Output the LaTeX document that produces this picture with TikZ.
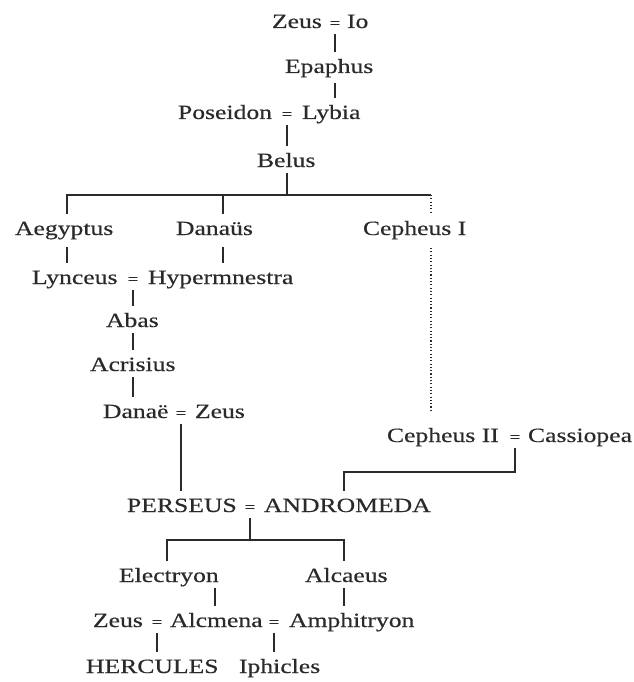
\documentclass[tikz,border=0pt]{standalone}
\usepackage{fontspec}
\setmainfont{Liberation Serif}[FakeStretch=1.27, FakeBold=0.4]
\definecolor{ink}{HTML}{2A2A2A}
\begin{document}
\begin{tikzpicture}[x=1pt,y=-1pt,
  person/.style={inner sep=0pt, outer sep=0pt, text height=21pt, text depth=6pt,
    anchor=base west, font=\fontsize{20.2}{24}\selectfont, text=ink},
  eqsign/.style={person, anchor=base, font=\fontsize{15}{18}\selectfont},
  link/.style={draw=ink, line width=1.2pt},
  dotlink/.style={draw=ink, line width=1.1pt, dash pattern=on 1.1pt off 2.2pt}]
\useasboundingbox (0,0) rectangle (633,682);
% row 1
\node[person] (zeusA) at (272,28) {Zeus};
\node[eqsign] (eqA) at (335,28) {=};
\node[person] (io) at (347,28) {Io};
% row 2
\node[person] (epaphus) at (285,73) {Epaphus};
% row 3
\node[person] (poseidon) at (178,119) {Poseidon};
\node[eqsign] (eqB) at (287,119) {=};
\node[person] (lybia) at (302,119) {Lybia};
% row 4
\node[person] (belus) at (257,167) {Belus};
% row 5
\node[person] (aeg) at (15,235) {Aegyptus};
\node[person] (danaus) at (176,235) {Danaüs};
\node[person] (cephA) at (363,235) {Cepheus I};
% row 6
\node[person] (lync) at (32,284) {Lynceus};
\node[eqsign] (eqC) at (133,284) {=};
\node[person] (hyper) at (148,284) {Hypermnestra};
% row 7-8
\node[person] (abas) at (106,327) {Abas};
\node[person] (acr) at (90,371) {Acrisius};
% row 9
\node[person] (danae) at (103,418) {Danaë};
\node[eqsign] (eqD) at (181,418) {=};
\node[person] (zeusB) at (195,418) {Zeus};
% row 10
\node[person] (cephB) at (387,442) {Cepheus II};
\node[eqsign] (eqE) at (515,442) {=};
\node[person] (cass) at (528,442) {Cassiopea};
% row 11
\node[person] (perseus) at (127,512) {PERSEUS};
\node[eqsign] (eqF) at (250,512) {=};
\node[person] (andro) at (264,512) {ANDROMEDA};
% row 12
\node[person] (electryon) at (119,582) {Electryon};
\node[person] (alcaeus) at (305,582) {Alcaeus};
% row 13
\node[person] (zeusC) at (93,627) {Zeus};
\node[eqsign] (eqG) at (157,627) {=};
\node[person] (alcmena) at (170,627) {Alcmena};
\node[eqsign] (eqH) at (274,627) {=};
\node[person] (amph) at (289,627) {Amphitryon};
% row 14
\node[person] (herc) at (86,673) {HERCULES};
\node[person] (iph) at (239,673) {Iphicles};

% junction coordinates
\coordinate (busL) at (67,195);
\coordinate (busD) at (223,195);
\coordinate (busM) at (287,195);
\coordinate (busR) at (431,195);
\coordinate (cornerC) at (344,472);
\coordinate (busPL) at (167,540);
\coordinate (busPR) at (344,540);
\coordinate (lineE) at (215,0);

% connectors
\draw[link] (eqA.south) -- (eqA.south |- epaphus.north);
\draw[link] ([yshift=-4pt]eqA |- epaphus.south) -- (eqA |- lybia.north);
\draw[link] (eqB.south) -- (eqB.south |- belus.north);
\draw[link] (busM |- belus.south) -- (busM);
\draw[link] (busL |- aeg.north) -- (busL) -- (busR);
\draw[link] (busD) -- (busD |- danaus.north);
\draw[dotlink] (busR) -- (busR |- cephA.north);
\draw[dotlink] ([yshift=-7pt]busR |- cephA.south) -- ([yshift=11pt]busR |- cephB.north);
\draw[link] ([yshift=-6pt]busL |- aeg.south) -- (busL |- lync.north);
\draw[link] ([yshift=-6pt]busD |- danaus.south) -- (busD |- hyper.north);
\draw[link] (eqC.south) -- (eqC.south |- abas.north);
\draw[link] (eqC |- abas.south) -- (eqC |- acr.north);
\draw[link] (eqC |- acr.south) -- (eqC |- danae.north);
\draw[link] (eqD.south) -- (eqD.south |- perseus.north);
\draw[link, line join=miter] (eqE.south) -- (eqE.south |- cornerC) -- (cornerC) -- (cornerC |- andro.north);
\draw[link] (eqF.south) -- (eqF.south |- busPL);
\draw[link, line join=miter] (busPL |- electryon.north) -- (busPL) -- (busPR) -- (busPR |- alcaeus.north);
\draw[link] (lineE |- electryon.south) -- (lineE |- alcmena.north);
\draw[link] (busPR |- alcaeus.south) -- (busPR |- amph.north);
\draw[link] (eqG.south) -- (eqG.south |- herc.north);
\draw[link] (eqH.south) -- (eqH.south |- iph.north);
\end{tikzpicture}
\end{document}
